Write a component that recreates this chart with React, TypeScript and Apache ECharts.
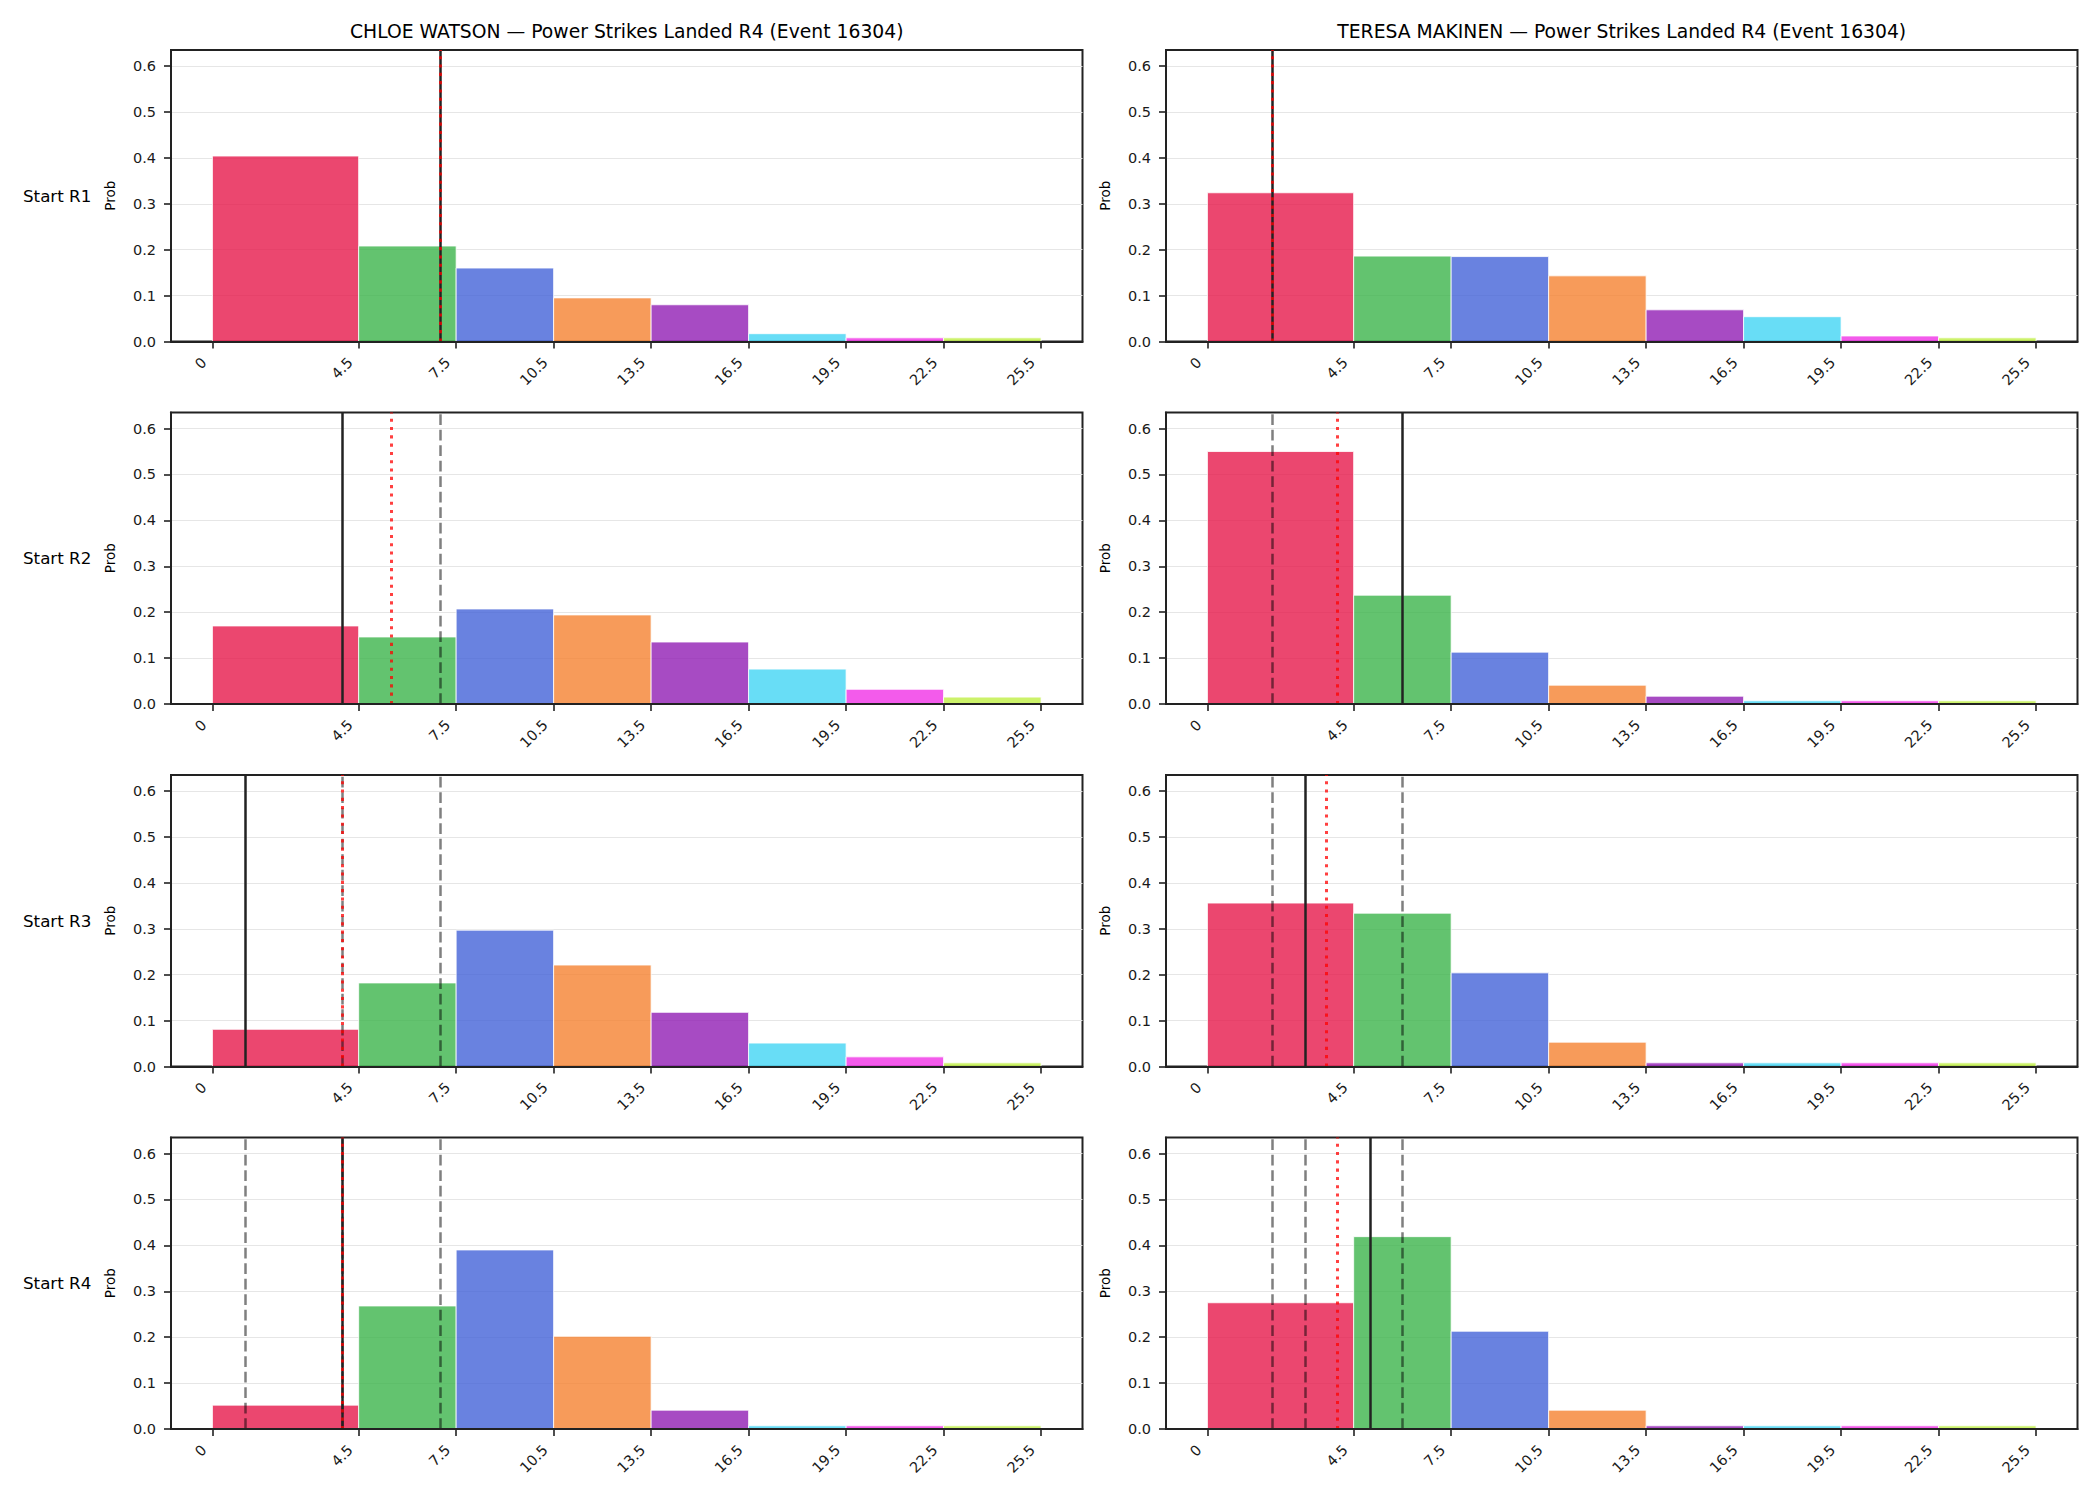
import React, { useEffect, useRef } from "react";
import * as echarts from "echarts";

const fighters = ["CHLOE WATSON", "TERESA MAKINEN"];
const titleSuffix = " — Power Strikes Landed R4 (Event 16304)";
const rowLabels = ["Start R1", "Start R2", "Start R3", "Start R4"];
const binEdges = [0, 4.5, 7.5, 10.5, 13.5, 16.5, 19.5, 22.5, 25.5];
const binColors = ["#e6194b", "#3cb44b", "#4363d8", "#f58231", "#911eb4", "#42d4f4", "#f032e6", "#bfef45"];
const yTicks = [0, 0.1, 0.2, 0.3, 0.4, 0.5, 0.6];

const chloeProbs = [
  [0.404, 0.208, 0.16, 0.095, 0.08, 0.017, 0.008, 0.008],
  [0.17, 0.146, 0.207, 0.194, 0.135, 0.076, 0.032, 0.015],
  [0.081, 0.182, 0.297, 0.221, 0.118, 0.051, 0.021, 0.008],
  [0.052, 0.268, 0.39, 0.202, 0.041, 0.007, 0.007, 0.007],
];
const teresaProbs = [
  [0.324, 0.186, 0.185, 0.143, 0.069, 0.054, 0.012, 0.008],
  [0.55, 0.237, 0.113, 0.041, 0.017, 0.007, 0.007, 0.007],
  [0.356, 0.334, 0.204, 0.053, 0.008, 0.008, 0.008, 0.008],
  [0.275, 0.419, 0.213, 0.041, 0.007, 0.007, 0.007, 0.007],
];
const chloeActual = [7, 4, 1, 4];
const chloeMean = [7, 5.5, 4, 4];
const chloePrior = [[], [7], [7, 4], [7, 4, 1]];
const teresaActual = [2, 6, 3, 5];
const teresaMean = [2, 4, 3.667, 4];
const teresaPrior = [[], [2], [2, 6], [2, 6, 3]];

const FONT = "DejaVu Sans";
const X_MIN = -1.275;
const X_MAX = 26.775;
const Y_MAX = 0.635;
const COL_LEFT = [171, 1166];
const PLOT_W = 911.5;
const ROW_TOP = [50, 412.5, 775, 1137.5];
const PLOT_H = 291.5;

function rgba(hex: string, a: number) {
  const n = parseInt(hex.slice(1), 16);
  return `rgba(${(n >> 16) & 255},${(n >> 8) & 255},${n & 255},${a})`;
}

function buildOption() {
  const grids: any[] = [];
  const xAxes: any[] = [];
  const yAxes: any[] = [];
  const series: any[] = [];
  const graphics: any[] = [];
  const allProbs = [chloeProbs, teresaProbs];
  const allActual = [chloeActual, teresaActual];
  const allMean = [chloeMean, teresaMean];
  const allPrior = [chloePrior, teresaPrior];

  for (let c = 0; c < 2; c++) {
    graphics.push({
      type: "text",
      x: COL_LEFT[c] + PLOT_W / 2,
      y: 31.5,
      style: {
        text: fighters[c] + titleSuffix,
        font: `18.75px "${FONT}"`,
        fill: "#000",
        textAlign: "center",
        textVerticalAlign: "middle",
      },
    });
  }
  for (let r = 0; r < 4; r++) {
    graphics.push({
      type: "text",
      x: 23,
      y: ROW_TOP[r] + PLOT_H / 2,
      style: {
        text: rowLabels[r],
        font: `16.7px "${FONT}"`,
        fill: "#000",
        textAlign: "left",
        textVerticalAlign: "middle",
      },
    });
  }

  let idx = 0;
  for (let r = 0; r < 4; r++) {
    for (let c = 0; c < 2; c++) {
      grids.push({
        left: COL_LEFT[c],
        top: ROW_TOP[r],
        width: PLOT_W,
        height: PLOT_H,
        show: true,
        borderColor: "#222",
        borderWidth: 2,
        backgroundColor: "transparent",
      });
      xAxes.push({
        type: "value",
        gridIndex: idx,
        min: X_MIN,
        max: X_MAX,
        z: 5,
        axisLine: { show: true, onZero: false, lineStyle: { color: "#222", width: 2 } },
        axisTick: {
          show: true,
          customValues: binEdges,
          length: 7,
          lineStyle: { color: "#222", width: 1.6 },
        },
        axisLabel: {
          customValues: binEdges,
          rotate: 45,
          margin: 10,
          padding: [0, 12, 0, 0],
          fontFamily: FONT,
          fontSize: 14.5,
          color: "#1a1a1a",
          formatter: (v: number) => String(v),
        },
        splitLine: { show: false },
      });
      yAxes.push({
        type: "value",
        gridIndex: idx,
        min: 0,
        max: Y_MAX,
        interval: 0.1,
        name: "Prob",
        nameLocation: "middle",
        nameGap: 54,
        nameTextStyle: { fontFamily: FONT, fontSize: 13.5, color: "#000" },
        axisLine: { show: true, onZero: false, lineStyle: { color: "#222", width: 2 } },
        axisTick: {
          show: true,
          customValues: yTicks,
          length: 7,
          lineStyle: { color: "#222", width: 1.6 },
        },
        axisLabel: {
          customValues: yTicks,
          margin: 15,
          fontFamily: FONT,
          fontSize: 14.5,
          color: "#1a1a1a",
          formatter: (v: number) => v.toFixed(1),
        },
        splitLine: { show: true, lineStyle: { color: "#e6e6e6", width: 1 } },
      });

      const probs = allProbs[c][r];
      const data = probs.map((p, i) => [binEdges[i], binEdges[i + 1], p, i]);
      const markData: any[] = [];
      allPrior[c][r].forEach((v) =>
        markData.push({
          xAxis: v,
          lineStyle: { color: "#000", opacity: 0.5, width: 2.5, type: [10.8, 4.7] },
        })
      );
      markData.push({
        xAxis: allActual[c][r],
        lineStyle: { color: "#222", opacity: 1, width: 2.5, type: "solid" },
      });
      markData.push({
        xAxis: allMean[c][r],
        lineStyle: { color: "#ff0000", opacity: 0.75, width: 3, type: [3.1, 5.2] },
      });

      series.push({
        type: "custom",
        xAxisIndex: idx,
        yAxisIndex: idx,
        data,
        dimensions: ["x0", "x1", "p", "ci"],
        encode: { x: [0, 1], y: 2 },
        renderItem: (params: any, api: any) => {
          const x0 = api.value(0);
          const x1 = api.value(1);
          const y = api.value(2);
          const ci = api.value(3);
          const a = api.coord([x0, y]);
          const b = api.coord([x1, 0]);
          return {
            type: "rect",
            shape: { x: a[0], y: a[1], width: b[0] - a[0], height: b[1] - a[1] },
            style: { fill: rgba(binColors[ci], 0.8), stroke: "#ffffff", lineWidth: 0.8 },
          };
        },
        markLine: {
          silent: true,
          symbol: ["none", "none"],
          label: { show: false },
          z: 5,
          data: markData,
        },
      });
      idx++;
    }
  }

  return {
    animation: false,
    backgroundColor: "#ffffff",
    grid: grids,
    xAxis: xAxes,
    yAxis: yAxes,
    series,
    graphic: graphics,
  };
}

export default function App() {
  const ref = useRef<HTMLDivElement>(null);
  useEffect(() => {
    if (!ref.current) return;
    const chart = echarts.init(ref.current, undefined, { renderer: "svg" });
    chart.setOption(buildOption() as any);
    return () => chart.dispose();
  }, []);
  return (
    <div
      ref={ref}
      style={{ position: "absolute", left: 0, top: 0, width: 2100, height: 1500, background: "#fff" }}
    />
  );
}
